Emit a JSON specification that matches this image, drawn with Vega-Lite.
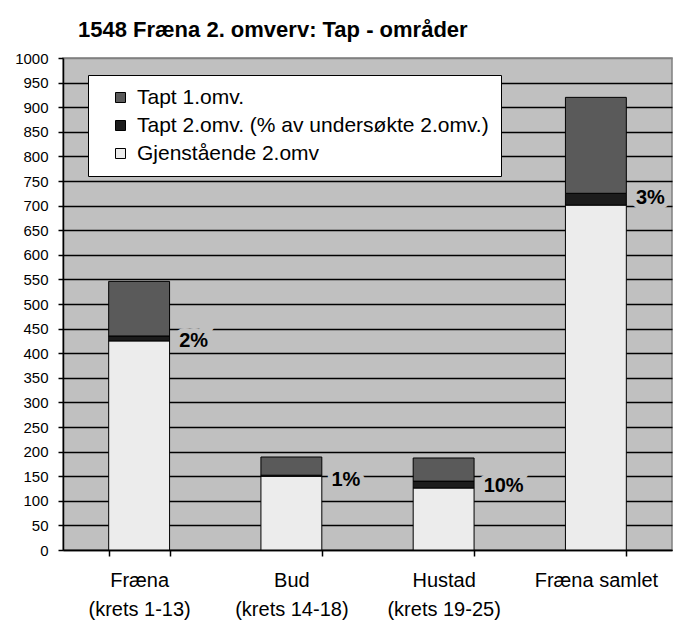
{
  "$schema": "https://vega.github.io/schema/vega-lite/v6.json",
  "width": 609,
  "height": 492,
  "autosize": {"type": "none"},
  "padding": {"left": 63, "top": 58, "right": 3, "bottom": 87},
  "background": "white",
  "title": {
    "text": "1548 Fræna 2. omverv: Tap - områder",
    "anchor": "start",
    "frame": "group",
    "dx": 15,
    "offset": 9,
    "font": "Liberation Sans",
    "fontSize": 22,
    "fontWeight": "bold",
    "color": "black"
  },
  "config": {
    "view": {"fill": "#c0c0c0", "stroke": "#808080", "strokeWidth": 1.5}
  },
  "data": {
    "values": [
      {"omrade": "Fræna (krets 1-13)", "serie": "Gjenstående 2.omv", "antall": 425},
      {"omrade": "Fræna (krets 1-13)", "serie": "Tapt 2.omv. (% av undersøkte 2.omv.)", "antall": 10, "andel": "2%"},
      {"omrade": "Fræna (krets 1-13)", "serie": "Tapt 1.omv.", "antall": 111},
      {"omrade": "Bud (krets 14-18)", "serie": "Gjenstående 2.omv", "antall": 150},
      {"omrade": "Bud (krets 14-18)", "serie": "Tapt 2.omv. (% av undersøkte 2.omv.)", "antall": 2, "andel": "1%"},
      {"omrade": "Bud (krets 14-18)", "serie": "Tapt 1.omv.", "antall": 37},
      {"omrade": "Hustad (krets 19-25)", "serie": "Gjenstående 2.omv", "antall": 126},
      {"omrade": "Hustad (krets 19-25)", "serie": "Tapt 2.omv. (% av undersøkte 2.omv.)", "antall": 14, "andel": "10%"},
      {"omrade": "Hustad (krets 19-25)", "serie": "Tapt 1.omv.", "antall": 47},
      {"omrade": "Fræna samlet", "serie": "Gjenstående 2.omv", "antall": 701},
      {"omrade": "Fræna samlet", "serie": "Tapt 2.omv. (% av undersøkte 2.omv.)", "antall": 24, "andel": "3%"},
      {"omrade": "Fræna samlet", "serie": "Tapt 1.omv.", "antall": 195}
    ]
  },
  "transform": [
    {"calculate": "indexof(['Gjenstående 2.omv','Tapt 2.omv. (% av undersøkte 2.omv.)','Tapt 1.omv.'], datum.serie)", "as": "rekkefolge"}
  ],
  "encoding": {
    "x": {
      "field": "omrade",
      "type": "nominal",
      "sort": null,
      "scale": {"paddingInner": 0.6, "paddingOuter": 0.3},
      "axis": {
        "title": null,
        "labelAngle": 0,
        "domainColor": "black",
        "domainWidth": 1.5,
        "tickColor": "black",
        "tickWidth": 1.5,
        "tickSize": 6,
        "tickBand": "extent",
        "labelFont": "Liberation Sans",
        "labelFontSize": 20,
        "labelColor": "black",
        "labelBaseline": "top",
        "labelLineHeight": 29,
        "labelPadding": 14,
        "labelLimit": 300,
        "labelOverlap": false,
        "labelExpr": "isString(datum.value) && indexof(datum.value, ' (') > 0 ? [substring(datum.value, 0, indexof(datum.value, ' (')), substring(datum.value, indexof(datum.value, ' (') + 1)] : datum.label"
      }
    },
    "y": {
      "field": "antall",
      "type": "quantitative",
      "stack": "zero",
      "scale": {"domain": [0, 1000], "nice": false},
      "axis": {
        "title": null,
        "values": [0, 50, 100, 150, 200, 250, 300, 350, 400, 450, 500, 550, 600, 650, 700, 750, 800, 850, 900, 950, 1000],
        "format": "d",
        "labelFont": "Liberation Sans",
        "labelFontSize": 15,
        "labelColor": "black",
        "labelPadding": 10,
        "tickColor": "black",
        "tickWidth": 1.5,
        "tickSize": 5,
        "domainColor": "black",
        "domainWidth": 1.5,
        "grid": true,
        "gridColor": {"condition": {"test": "datum.value == 1000", "value": "#808080"}, "value": "black"},
        "gridWidth": 1.5
      }
    },
    "order": {"field": "rekkefolge", "type": "quantitative"}
  },
  "layer": [
    {
      "mark": {"type": "bar", "stroke": "black", "strokeWidth": 1},
      "encoding": {
        "color": {
          "field": "serie",
          "type": "nominal",
          "scale": {
            "domain": ["Tapt 1.omv.", "Tapt 2.omv. (% av undersøkte 2.omv.)", "Gjenstående 2.omv"],
            "range": ["#5a5a5a", "#1c1c1c", "#ececec"]
          },
          "legend": {
            "title": null,
            "orient": "none",
            "legendX": 25,
            "legendY": 17,
            "fillColor": "white",
            "strokeColor": "black",
            "padding": 12,
            "symbolType": "square",
            "symbolSize": 100,
            "symbolStrokeColor": "black",
            "symbolStrokeWidth": 1,
            "symbolOpacity": 1,
            "symbolOffset": 10,
            "labelOffset": 6,
            "labelFont": "Liberation Sans",
            "labelFontSize": 21,
            "labelColor": "black",
            "labelLimit": 500,
            "rowPadding": 6
          }
        }
      }
    },
    {
      "mark": {
        "type": "text",
        "align": "left",
        "baseline": "middle",
        "dx": 40,
        "dy": 5,
        "font": "Liberation Sans",
        "fontSize": 20,
        "fontWeight": "bold",
        "fill": "#c0c0c0",
        "stroke": "#c0c0c0",
        "strokeWidth": 10
      },
      "encoding": {
        "text": {"condition": {"test": "isValid(datum.andel)", "field": "andel"}, "value": ""}
      }
    },
    {
      "mark": {
        "type": "text",
        "align": "left",
        "baseline": "middle",
        "dx": 40,
        "dy": 5,
        "font": "Liberation Sans",
        "fontSize": 20,
        "fontWeight": "bold",
        "fill": "black"
      },
      "encoding": {
        "text": {"condition": {"test": "isValid(datum.andel)", "field": "andel"}, "value": ""}
      }
    }
  ]
}
